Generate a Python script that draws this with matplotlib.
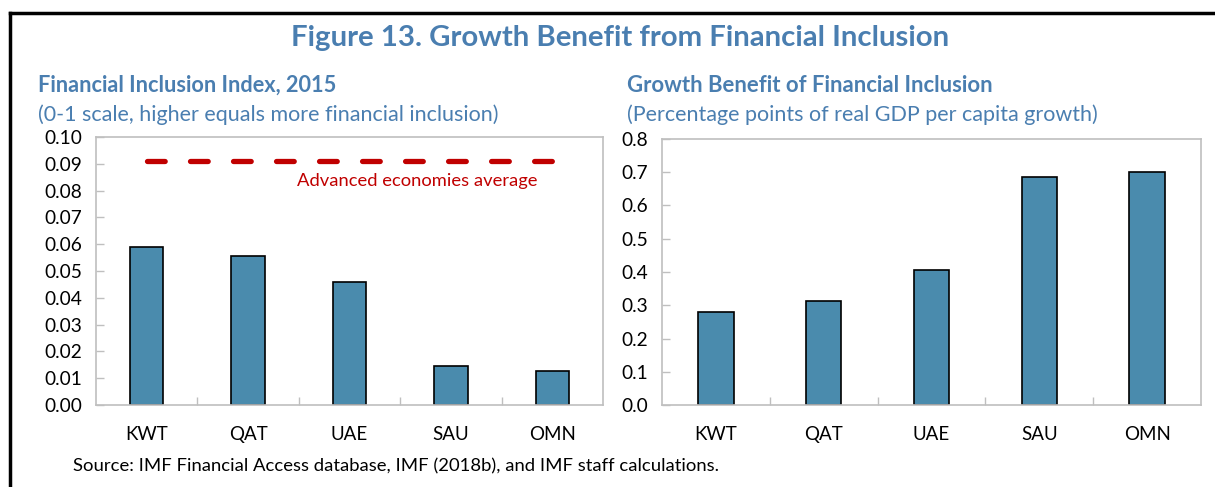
import matplotlib.pyplot as plt
from matplotlib.lines import Line2D

plt.rcParams['font.family'] = ['Lato', 'DejaVu Sans']

countries = ["KWT", "QAT", "UAE", "SAU", "OMN"]
fin_index = [0.059, 0.0555, 0.046, 0.0145, 0.0128]
adv_avg = 0.091
growth_benefit = [0.28, 0.312, 0.405, 0.687, 0.70]

W, H = 1215, 487
BLUE = "#4A7EB0"
BAR = "#4A8BAD"
RED = "#C00000"
GRAY = "#BFBFBF"

fig = plt.figure(figsize=(W / 100, H / 100), dpi=100)


def px_axes(x0, y0, x1, y1):
    # pixel box (top-left origin) -> figure fraction
    return fig.add_axes([x0 / W, 1 - y1 / H, (x1 - x0) / W, (y1 - y0) / H])


def style(ax, ymax, step, fmt):
    xs = range(len(countries))
    ax.set_xlim(-0.5, len(countries) - 0.5)
    ax.set_ylim(0, ymax)
    ticks = [i * step for i in range(int(round(ymax / step)) + 1)]
    ax.set_yticks(ticks)
    ax.set_yticklabels([fmt.format(t) for t in ticks])
    ax.set_xticks(list(xs))
    ax.set_xticklabels(countries)
    ax.set_xticks([i + 0.5 for i in range(len(countries) - 1)], minor=True)
    ax.tick_params(axis='x', which='major', length=0, pad=15, labelsize=13.5)
    ax.tick_params(axis='x', which='minor', direction='in', length=6, color=GRAY, width=1)
    ax.tick_params(axis='y', direction='in', length=6, color=GRAY, width=1, labelsize=13.8, pad=10)
    for s in ax.spines.values():
        s.set_color(GRAY)
        s.set_linewidth(1.2)


# left panel
ax1 = px_axes(96, 137, 603, 405)
ax1.bar(range(len(countries)), fin_index, width=0.33, color=BAR, edgecolor="black", linewidth=1.2)
ax1.plot([0, len(countries) - 1], [adv_avg, adv_avg], color=RED, linewidth=3.8,
         dashes=(3.35, 4.8), dash_capstyle='round')
ax1.text(2.67, 0.0835, "Advanced economies average", color=RED, fontsize=13.2,
         ha='center', va='center')
style(ax1, 0.10, 0.01, "{:.2f}")

# right panel
ax2 = px_axes(662, 139, 1201, 405)
ax2.bar(range(len(countries)), growth_benefit, width=0.33, color=BAR, edgecolor="black", linewidth=1.2)
style(ax2, 0.8, 0.1, "{:.1f}")

# titles
fig.text(620 / W, 1 - 38 / H, "Figure 13. Growth Benefit from Financial Inclusion",
         color=BLUE, fontsize=21.2, fontweight='bold', ha='center', va='center')
fig.text(38 / W, 1 - 85 / H, "Financial Inclusion Index, 2015", color=BLUE,
         fontsize=15.7, fontweight='bold', va='center')
fig.text(38 / W, 1 - 115 / H, "(0-1 scale, higher equals more financial inclusion)",
         color=BLUE, fontsize=15.5, va='center')
fig.text(627 / W, 1 - 85 / H, "Growth Benefit of Financial Inclusion", color=BLUE,
         fontsize=15.9, fontweight='bold', va='center')
fig.text(627 / W, 1 - 115 / H, "(Percentage points of real GDP per capita growth)",
         color=BLUE, fontsize=15.5, va='center')
fig.text(73 / W, 1 - 466 / H, "Source: IMF Financial Access database, IMF (2018b), and IMF staff calculations.",
         fontsize=13.3, va='center')

# frame lines
fig.add_artist(Line2D([10 / W, 1], [1 - 13 / H, 1 - 13 / H], color="black", linewidth=2.5))
fig.add_artist(Line2D([10 / W, 10 / W], [0, 1 - 13 / H], color="black", linewidth=2.5))

fig.savefig("out.png", dpi=100)
